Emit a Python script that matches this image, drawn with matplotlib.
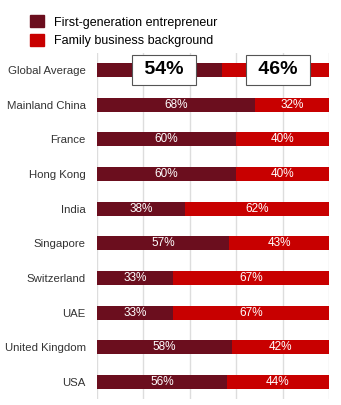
import numpy as np
import matplotlib.pyplot as plt
from matplotlib.patches import Patch

plt.rcParams['font.family'] = ['Liberation Sans', 'DejaVu Sans']

countries = ['Global Average', 'Mainland China', 'France', 'Hong Kong', 'India',
             'Singapore', 'Switzerland', 'UAE', 'United Kingdom', 'USA']
first_gen = [54, 68, 60, 60, 38, 57, 33, 33, 58, 56]
family_bg = [46, 32, 40, 40, 62, 43, 67, 67, 42, 44]

dark = '#6b0e1e'
red = '#c80000'

fig = plt.figure(figsize=(3.41, 4.05), dpi=100)
ax = fig.add_axes([0.284, 0.014, 0.681, 0.856])

y = np.arange(len(countries))
ax.barh(y, first_gen, height=0.4, color=dark, zorder=2)
ax.barh(y, family_bg, left=first_gen, height=0.4, color=red, zorder=2)

for i in range(len(countries)):
    a, b = first_gen[i], family_bg[i]
    if i == 0:
        # global average gets boxed bold labels
        box = dict(boxstyle='square,pad=0.35', fc='white', ec='#555555', lw=0.8)
        ax.text(a / 2 + 2, i, ' %d%% ' % a, ha='center', va='center', fontsize=14,
                fontweight='bold', bbox=box, zorder=3)
        ax.text(a + b / 2 + 1, i, ' %d%% ' % b, ha='center', va='center', fontsize=14,
                fontweight='bold', bbox=box, zorder=3)
    else:
        ax.text(a / 2, i, '%d%%' % a, ha='center', va='center', color='white', fontsize=8.5, zorder=3)
        ax.text(a + b / 2, i, '%d%%' % b, ha='center', va='center', color='white', fontsize=8.5, zorder=3)

ax.set_xlim(0, 100)
ax.set_ylim(len(countries) - 0.5, -0.5)
ax.set_yticks(y)
ax.set_yticklabels(countries, fontsize=8.2, color='#333333')
ax.set_xticks([0, 20, 40, 60, 80, 100])
ax.set_xticklabels([])
ax.tick_params(length=0, pad=8)
ax.grid(axis='x', color='#dddddd', lw=1, zorder=0)
for s in ax.spines.values():
    s.set_visible(False)

handles = [Patch(color=dark, label='First-generation entrepreneur'),
           Patch(color=red, label='Family business background')]
fig.legend(handles=handles, loc='upper left', bbox_to_anchor=(0.055, 0.99), frameon=False,
           fontsize=9, handlelength=1.1, handleheight=1.1, handletextpad=0.8, labelspacing=0.45)

fig.savefig('out.png', dpi=100)
